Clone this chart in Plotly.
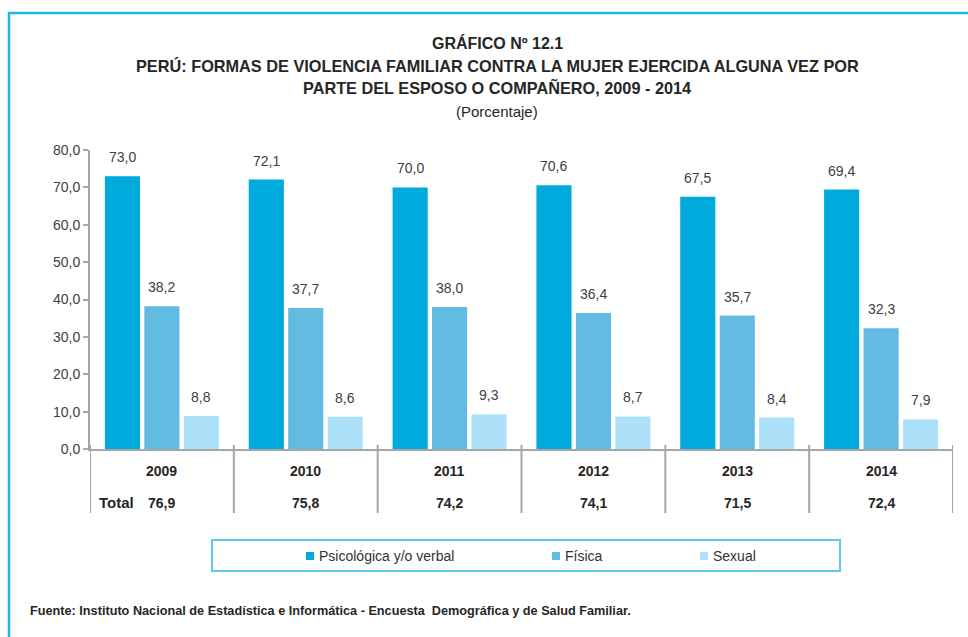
import plotly.graph_objects as go

years = ["2009", "2010", "2011", "2012", "2013", "2014"]
psicologica = [73.0, 72.1, 70.0, 70.6, 67.5, 69.4]
fisica = [38.2, 37.7, 38.0, 36.4, 35.7, 32.3]
sexual = [8.8, 8.6, 9.3, 8.7, 8.4, 7.9]
totals = [76.9, 75.8, 74.2, 74.1, 71.5, 72.4]
series_names = ["Psicológica y/o verbal", "Física", "Sexual"]
y_ticks = [0, 10, 20, 30, 40, 50, 60, 70, 80]

colors = ["#00AADC", "#62BBE0", "#ADE1FA"]
FONT = "Liberation Sans, Arial, sans-serif"
W, H = 968, 637
L, R, T, B = 90, 953, 150, 449  # plot area in pixels


def px(x):
    return (x - L) / (R - L)


def py(y):
    return (B - y) / (B - T)


def fmt(v):
    return f"{v:.1f}".replace(".", ",")


def ann(**kw):
    d = dict(showarrow=False, xanchor="center", yanchor="middle")
    d.update(kw)
    return d


fig = go.Figure()
series = [psicologica, fisica, sexual]
for name, vals, col in zip(series_names, series, colors):
    fig.add_trace(go.Bar(x=years, y=vals, name=name, marker=dict(color=col, line=dict(width=0)),
                         showlegend=False, hoverinfo="x+y+name"))

annotations = []
shifts = [-39.5, 0, 39.5]
for vals, sh in zip(series, shifts):
    for i, v in enumerate(vals):
        annotations.append(ann(x=i, y=v, xref="x", yref="y", text=fmt(v),
                               xshift=sh, yshift=19, font=dict(family=FONT, size=14, color="#404040")))

# table rows
for i, (yr, tot) in enumerate(zip(years, totals)):
    annotations.append(ann(x=i, y=py(471), xref="x", yref="paper", text=f"<b>{yr}</b>",
                           font=dict(family=FONT, size=14, color="#262626")))
    annotations.append(ann(x=i, y=py(503), xref="x", yref="paper", text=f"<b>{fmt(tot)}</b>",
                           font=dict(family=FONT, size=14, color="#262626")))
annotations.append(ann(x=px(116.5), y=py(503), xref="paper", yref="paper", text="<b>Total</b>",
                       font=dict(family=FONT, size=15, color="#262626")))

# titles
title_lines = [
    ("<b>GRÁFICO Nº 12.1</b>", 43, 16),
    ("<b>PERÚ: FORMAS DE VIOLENCIA FAMILIAR CONTRA LA MUJER EJERCIDA ALGUNA VEZ POR</b>", 66, 16.3),
    ("<b>PARTE DEL ESPOSO O COMPAÑERO, 2009 - 2014</b>", 88, 16.3),
    ("(Porcentaje)", 111, 15),
]
for txt, yy, sz in title_lines:
    annotations.append(ann(x=px(497), y=py(yy), xref="paper", yref="paper", text=txt,
                           font=dict(family=FONT, size=sz, color="#262626")))

# footer
annotations.append(ann(x=px(28), y=py(611), xref="paper", yref="paper", xanchor="left",
                       text="<b>Fuente: Instituto Nacional de Estadística e Informática - Encuesta  Demográfica y de Salud Familiar.</b>",
                       font=dict(family=FONT, size=12.7, color="#262626")))

shapes = []
# category separators below axis
for i in range(len(years) + 1):
    shapes.append(dict(type="line", xref="x", yref="paper", x0=i - 0.5, x1=i - 0.5, y0=py(445), y1=py(513),
                       line=dict(color="#A6A6A6", width=2)))

# manual legend
shapes.append(dict(type="rect", xref="paper", yref="paper", x0=px(212), x1=px(840), y0=py(571), y1=py(540),
                   line=dict(color="#5BC8F0", width=2)))
legend_marker_x = [310, 556, 704]
for name, col, mx in zip(series_names, colors, legend_marker_x):
    shapes.append(dict(type="rect", xref="paper", yref="paper", x0=px(mx - 4), x1=px(mx + 4),
                       y0=py(560), y1=py(552), line=dict(width=0), fillcolor=col))
    annotations.append(ann(x=px(mx + 7), y=py(556), xref="paper", yref="paper", xanchor="left", text=name,
                           font=dict(family=FONT, size=14, color="#333333")))

# outer frame (top and left)
shapes.append(dict(type="line", xref="paper", yref="paper", x0=px(8), x1=px(968), y0=py(13), y1=py(13),
                   line=dict(color="#1EB4EC", width=2.5)))
shapes.append(dict(type="line", xref="paper", yref="paper", x0=px(9), x1=px(9), y0=py(12), y1=py(637),
                   line=dict(color="#1EB4EC", width=2.5)))

fig.update_layout(
    width=W, height=H,
    margin=dict(l=L, r=W - R, t=T, b=H - B, pad=0),
    paper_bgcolor="white", plot_bgcolor="white",
    barmode="group", bargap=0.177, bargroupgap=0.11,
    separators=",.",
    font=dict(family=FONT, color="#404040"),
    xaxis=dict(type="category", range=[-0.5, 5.5], showticklabels=False, showgrid=False, zeroline=False,
               showline=True, linecolor="#A6A6A6", linewidth=2, ticks=""),
    yaxis=dict(range=[0, 80], tickvals=y_ticks, tickformat=".1f", showgrid=False, zeroline=False,
               showline=True, linecolor="#A6A6A6", linewidth=2, ticks="outside", ticklen=5,
               tickcolor="#A6A6A6", tickwidth=2, tickfont=dict(family=FONT, size=14, color="#404040")),
    annotations=annotations,
    shapes=shapes,
    showlegend=False,
)

fig.write_html("out.html", config={"displayModeBar": False},
               post_script="document.body.style.margin='0';document.body.style.padding='0';")
